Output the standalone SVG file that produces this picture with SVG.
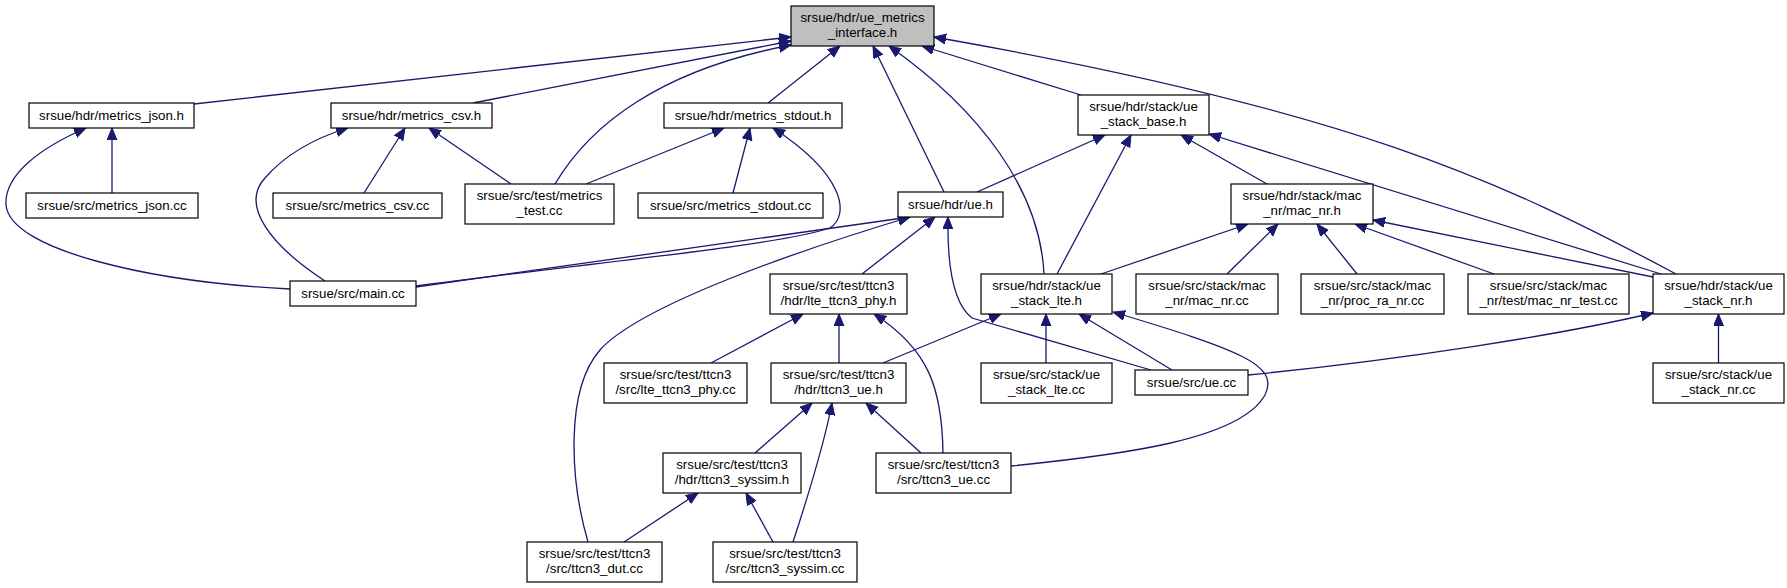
<svg xmlns="http://www.w3.org/2000/svg" width="1787" height="588" viewBox="0 0 1787 588">
<style>
.node rect{fill:#ffffff;stroke:#000000;stroke-width:1.2}
.node.root rect{fill:#bfbfbf}
.node text{font-family:"Liberation Sans",Arial,sans-serif;font-size:13.3px;text-anchor:middle;fill:#000000}
.edges path{fill:none;stroke:#191970;stroke-width:1.3;marker-end:url(#ah)}
</style>
<defs>
<marker id="ah" markerUnits="userSpaceOnUse" markerWidth="14" markerHeight="12" refX="12" refY="5" orient="auto">
<path d="M0,0 L12,5 L0,10 z" fill="#191970" stroke="#191970" stroke-width="1"/>
</marker>
</defs>
<rect x="0" y="0" width="1787" height="588" fill="#ffffff"/>
<g id="connectors" class="edges">
<path d="M194,104 L791,37"/>
<path d="M473,103 L791,41"/>
<path d="M555,184 C590,125 660,70 791,45"/>
<path d="M768,103 L840,46"/>
<path d="M944,192 L873,46"/>
<path d="M1044,274 C1040,190 980,110 889,46"/>
<path d="M1081,95 L922,46"/>
<path d="M1676,274 C1500,180 1350,110 934,37"/>
<path d="M112,193 L112,128"/>
<path d="M290,289 C150,282 10,250 6,205 C4,175 40,148 86,128"/>
<path d="M325,281 C270,245 240,205 265,178 C285,155 315,138 348,128"/>
<path d="M364,193 L405,128"/>
<path d="M511,184 L429,128"/>
<path d="M586,184 L724,128"/>
<path d="M733,193 L750,128"/>
<path d="M416,286 C600,262 780,245 830,228 C850,215 845,175 773,128"/>
<path d="M416,287 L910,217"/>
<path d="M588,542 C570,480 565,390 600,350 C640,305 800,250 910,217"/>
<path d="M862,274 L935,217"/>
<path d="M1151,370 L972,318 C955,305 947,270 948,217"/>
<path d="M977,192 L1105,135"/>
<path d="M1057,274 L1131,135"/>
<path d="M1267,184 L1181,135"/>
<path d="M1661,274 L1209,134"/>
<path d="M1101,274 L1248,224"/>
<path d="M1227,274 L1278,224"/>
<path d="M1357,274 L1317,224"/>
<path d="M1494,274 L1355,224"/>
<path d="M1653,277 L1373,220"/>
<path d="M883,363 L1001,314"/>
<path d="M1046,363 L1046,314"/>
<path d="M1172,370 L1079,314"/>
<path d="M1011,466 C1120,455 1240,440 1265,395 C1280,365 1240,350 1113,312"/>
<path d="M1248,375 C1400,360 1560,335 1653,313"/>
<path d="M1718.5,363 L1718.5,314"/>
<path d="M711,363 L803,314"/>
<path d="M839,363 L839,314"/>
<path d="M943,453 C942,390 930,350 874,314"/>
<path d="M755,453 L812,403"/>
<path d="M793,542 C810,490 825,440 832,403"/>
<path d="M921,453 L866,403"/>
<path d="M624,542 L698,493"/>
<path d="M773,542 L746,493"/>
</g>
<g id="n0" class="node root"><rect x="791" y="6" width="143" height="40"/><text x="862.5" y="21.7">srsue/hdr/ue_metrics</text><text x="862.5" y="36.7">_interface.h</text></g>
<g id="n1" class="node"><rect x="29" y="103" width="165" height="25"/><text x="111.5" y="119.6">srsue/hdr/metrics_json.h</text></g>
<g id="n2" class="node"><rect x="331" y="103" width="161" height="25"/><text x="411.5" y="119.6">srsue/hdr/metrics_csv.h</text></g>
<g id="n3" class="node"><rect x="664" y="103" width="178" height="25"/><text x="753" y="119.6">srsue/hdr/metrics_stdout.h</text></g>
<g id="n4" class="node"><rect x="1078" y="95" width="131" height="40"/><text x="1143.5" y="110.7">srsue/hdr/stack/ue</text><text x="1143.5" y="125.7">_stack_base.h</text></g>
<g id="n5" class="node"><rect x="26" y="193" width="172" height="25"/><text x="112" y="209.6">srsue/src/metrics_json.cc</text></g>
<g id="n6" class="node"><rect x="273" y="193" width="169" height="25"/><text x="357.5" y="209.6">srsue/src/metrics_csv.cc</text></g>
<g id="n7" class="node"><rect x="465" y="184" width="149" height="40"/><text x="539.5" y="199.7">srsue/src/test/metrics</text><text x="539.5" y="214.7">_test.cc</text></g>
<g id="n8" class="node"><rect x="638" y="193" width="185" height="25"/><text x="730.5" y="209.6">srsue/src/metrics_stdout.cc</text></g>
<g id="n9" class="node"><rect x="898" y="192" width="105" height="25"/><text x="950.5" y="208.6">srsue/hdr/ue.h</text></g>
<g id="n10" class="node"><rect x="1231" y="184" width="142" height="40"/><text x="1302" y="199.7">srsue/hdr/stack/mac</text><text x="1302" y="214.7">_nr/mac_nr.h</text></g>
<g id="n11" class="node"><rect x="290" y="281" width="126" height="25"/><text x="353" y="297.6">srsue/src/main.cc</text></g>
<g id="n12" class="node"><rect x="770" y="274" width="137" height="40"/><text x="838.5" y="289.7">srsue/src/test/ttcn3</text><text x="838.5" y="304.7">/hdr/lte_ttcn3_phy.h</text></g>
<g id="n13" class="node"><rect x="981" y="274" width="131" height="40"/><text x="1046.5" y="289.7">srsue/hdr/stack/ue</text><text x="1046.5" y="304.7">_stack_lte.h</text></g>
<g id="n14" class="node"><rect x="1136" y="274" width="142" height="40"/><text x="1207" y="289.7">srsue/src/stack/mac</text><text x="1207" y="304.7">_nr/mac_nr.cc</text></g>
<g id="n15" class="node"><rect x="1301" y="274" width="143" height="40"/><text x="1372.5" y="289.7">srsue/src/stack/mac</text><text x="1372.5" y="304.7">_nr/proc_ra_nr.cc</text></g>
<g id="n16" class="node"><rect x="1468" y="274" width="161" height="40"/><text x="1548.5" y="289.7">srsue/src/stack/mac</text><text x="1548.5" y="304.7">_nr/test/mac_nr_test.cc</text></g>
<g id="n17" class="node"><rect x="1653" y="274" width="131" height="40"/><text x="1718.5" y="289.7">srsue/hdr/stack/ue</text><text x="1718.5" y="304.7">_stack_nr.h</text></g>
<g id="n18" class="node"><rect x="604" y="363" width="143" height="40"/><text x="675.5" y="378.7">srsue/src/test/ttcn3</text><text x="675.5" y="393.7">/src/lte_ttcn3_phy.cc</text></g>
<g id="n19" class="node"><rect x="771" y="363" width="135" height="40"/><text x="838.5" y="378.7">srsue/src/test/ttcn3</text><text x="838.5" y="393.7">/hdr/ttcn3_ue.h</text></g>
<g id="n20" class="node"><rect x="981" y="363" width="131" height="40"/><text x="1046.5" y="378.7">srsue/src/stack/ue</text><text x="1046.5" y="393.7">_stack_lte.cc</text></g>
<g id="n21" class="node"><rect x="1135" y="370" width="113" height="25"/><text x="1191.5" y="386.6">srsue/src/ue.cc</text></g>
<g id="n22" class="node"><rect x="1653" y="363" width="131" height="40"/><text x="1718.5" y="378.7">srsue/src/stack/ue</text><text x="1718.5" y="393.7">_stack_nr.cc</text></g>
<g id="n23" class="node"><rect x="663" y="453" width="138" height="40"/><text x="732" y="468.7">srsue/src/test/ttcn3</text><text x="732" y="483.7">/hdr/ttcn3_syssim.h</text></g>
<g id="n24" class="node"><rect x="876" y="453" width="135" height="40"/><text x="943.5" y="468.7">srsue/src/test/ttcn3</text><text x="943.5" y="483.7">/src/ttcn3_ue.cc</text></g>
<g id="n25" class="node"><rect x="527" y="542" width="135" height="40"/><text x="594.5" y="557.7">srsue/src/test/ttcn3</text><text x="594.5" y="572.7">/src/ttcn3_dut.cc</text></g>
<g id="n26" class="node"><rect x="713" y="542" width="144" height="40"/><text x="785" y="557.7">srsue/src/test/ttcn3</text><text x="785" y="572.7">/src/ttcn3_syssim.cc</text></g>
</svg>
